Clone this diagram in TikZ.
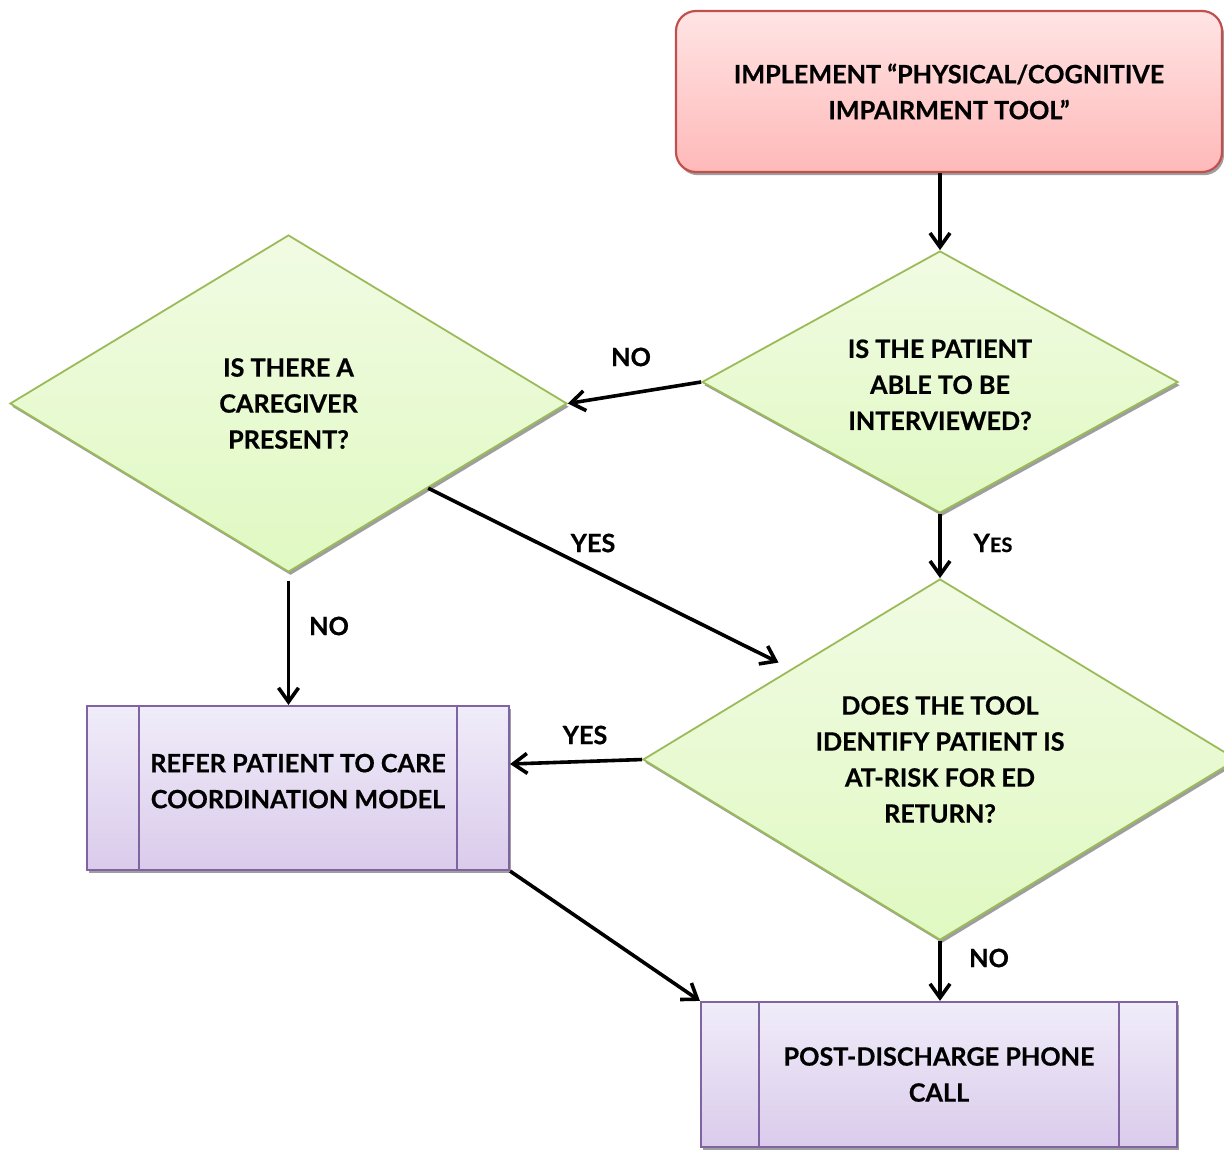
\documentclass[tikz,border=0pt]{standalone}
\usepackage{fontspec}
\setmainfont{Lato}[BoldFeatures={FakeBold=0.6}]
\usetikzlibrary{shapes.geometric,arrows.meta,shadows,calc}
\definecolor{redline}{HTML}{C0504D}
\definecolor{redtop}{HTML}{FFE4E4}
\definecolor{redbot}{HTML}{FFB9B9}
\definecolor{greenline}{HTML}{9BBB59}
\definecolor{greentop}{HTML}{F1FBE3}
\definecolor{greenbot}{HTML}{E0F9C2}
\definecolor{purpleline}{HTML}{8064A2}
\definecolor{purpletop}{HTML}{F0ECF9}
\definecolor{purplebot}{HTML}{DACBEB}
\tikzset{
  txt/.style={font=\fontsize{12.6}{18}\selectfont\bfseries, align=center, text=black},
  shd/.style={drop shadow={shadow xshift=1pt, shadow yshift=-1.6pt, fill=black!38, opacity=1}},
  startbox/.style={txt, shd, rectangle, rounded corners=10pt, draw=redline, line width=1.1pt,
    top color=redtop, bottom color=redbot, inner sep=0pt},
  decision/.style={txt, shd, diamond, draw=greenline, line width=0.9pt,
    top color=greentop, bottom color=greenbot, inner sep=0pt},
  process/.style={txt, shd, rectangle, draw=purpleline, line width=1.1pt,
    top color=purpletop, bottom color=purplebot, inner sep=0pt},
  conn/.style={line width=1.8pt, -{Straight Barb[length=7pt,width=10pt,line width=1.8pt]}},
  lbl/.style={font=\fontsize{12.6}{14}\selectfont\bfseries, text=black, inner sep=0pt},
}
\begin{document}
\begin{tikzpicture}[x=0.5pt,y=-0.5pt]
\useasboundingbox (0,0) rectangle (1224,1152);

\node[startbox, minimum width=273pt, minimum height=80.5pt] (T) at (949,91.5)
  {IMPLEMENT \textquotedblleft PHYSICAL/COGNITIVE\\IMPAIRMENT TOOL\textquotedblright};

\node[decision, minimum width=238pt, minimum height=131pt, shape aspect=1.82] (D1) at (940,382)
  {\rule{0pt}{12pt}IS THE PATIENT\\ABLE TO BE\\INTERVIEWED?};

\node[decision, minimum width=278.5pt, minimum height=168.5pt, shape aspect=1.65] (D2) at (288.5,403.5)
  {IS THERE A\\CAREGIVER\\PRESENT?};

\node[decision, minimum width=297pt, minimum height=180.5pt, shape aspect=1.65] (D3) at (940,759.5)
  {DOES THE TOOL\\IDENTIFY PATIENT IS\\AT-RISK FOR ED\\RETURN?};

\node[process, minimum width=211pt, minimum height=82pt] (B1) at (298,788)
  {REFER PATIENT TO CARE\\COORDINATION MODEL\\[-11pt]\mbox{}};
\draw[purpleline, line width=1.1pt] ($(B1.north west)+(53,0)$) -- ($(B1.south west)+(53,0)$);
\draw[purpleline, line width=1.1pt] ($(B1.north east)+(-53,0)$) -- ($(B1.south east)+(-53,0)$);

\node[process, minimum width=238pt, minimum height=72.5pt] (B2) at (939,1074.5)
  {POST-DISCHARGE PHONE\\CALL};
\draw[purpleline, line width=1.1pt] ($(B2.north west)+(59,0)$) -- ($(B2.south west)+(59,0)$);
\draw[purpleline, line width=1.1pt] ($(B2.north east)+(-59,0)$) -- ($(B2.south east)+(-59,0)$);

% connectors
\draw[conn] (T.south -| D1.north) -- (D1.north);
\draw[conn] (D1.west) -- (D2.east);
\draw[conn] (D1.south) -- (D3.north);
\draw[conn, shorten <=4pt] (D2.south) -- (B1.north -| D2.south);
\draw[conn, shorten >=7pt] (D2.south east) -- (D3.north west);
\draw[conn] (D3.west) -- ([yshift=12pt]B1.east);
\draw[conn] (B1.south east) -- (B2.north west);
\draw[conn] (D3.south) -- (B2.north -| D3.south);

% labels
\node[lbl] (l1) at (631,357) {NO};
\node[lbl] (l2) at (993,543) {Y{\fontsize{10}{10}\selectfont ES}};
\node[lbl] (l3) at (593,543) {YES};
\node[lbl] (l4) at (329,626) {NO};
\node[lbl] (l5) at (585,735) {YES};
\node[lbl] (l6) at (989,958) {NO};
\end{tikzpicture}
\end{document}
